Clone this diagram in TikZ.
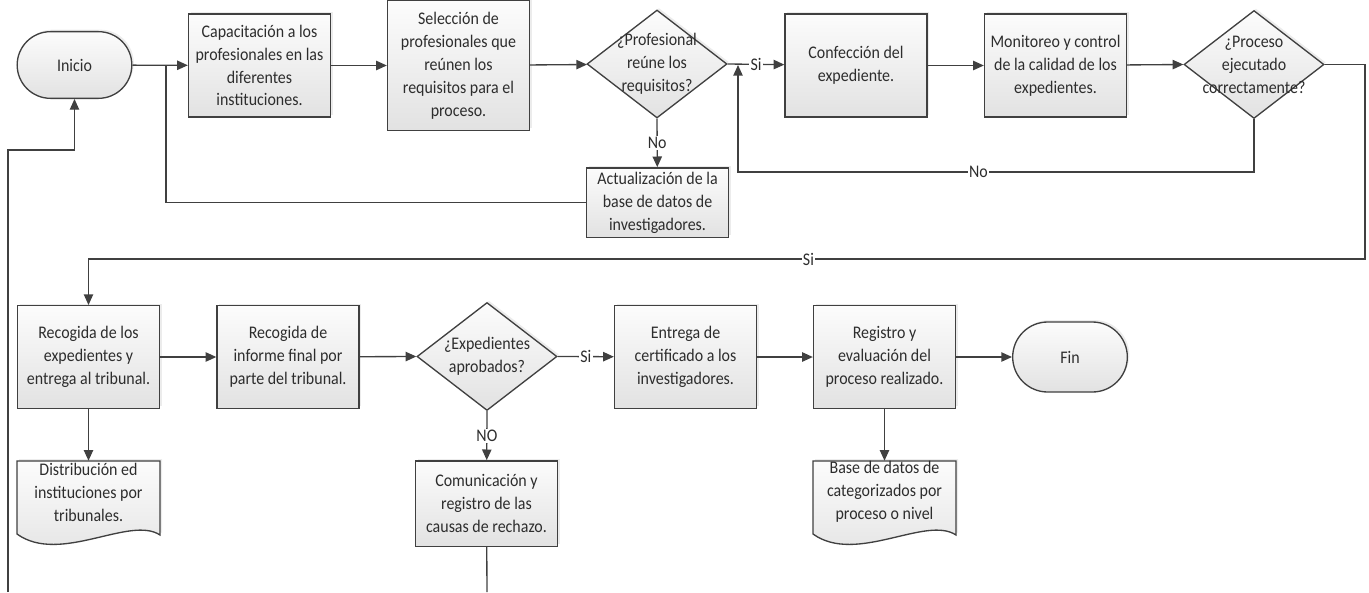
\documentclass[tikz,border=0pt]{standalone}
\usepackage{fontspec}
\setmainfont{Carlito}[FakeStretch=0.9]
\usetikzlibrary{arrows.meta,shapes.geometric,shapes.misc,shadows}
\definecolor{lineGray}{RGB}{64,64,64}
\definecolor{textGray}{RGB}{45,45,45}
\definecolor{fillTop}{RGB}{252,252,252}
\definecolor{fillBot}{RGB}{226,226,226}

\begin{document}
\begin{tikzpicture}[x=0.75pt,y=0.75pt,yscale=-1,xscale=1,
    font=\fontsize{13.3}{17.2}\selectfont,
    every node/.append style={text=textGray},
    shade/.style={top color=fillTop, bottom color=fillBot, drop shadow={opacity=0.15, shadow xshift=1.5pt, shadow yshift=1.5pt}},
    proc/.style={shade, draw=lineGray, line width=1pt, minimum width=106.5pt, minimum height=77pt, align=center, inner sep=0pt},
    term/.style={shade, rounded rectangle, draw=lineGray, line width=1pt, minimum width=86pt, minimum height=50pt, inner sep=0pt},
    decision/.style={shade, diamond, draw=lineGray, line width=1pt, minimum width=105pt, minimum height=81pt, inner sep=0pt},
    dtext/.style={align=center, inner sep=0pt},
    doctext/.style={align=center, minimum width=106.5pt, minimum height=46.5pt, inner sep=0pt},
    docline/.style={shade, draw=lineGray, line width=1pt},
    conn/.style={draw=lineGray, line width=1pt},
    arr/.style={conn, -{Triangle[length=8pt,width=7pt]}},
    lbl/.style={fill=white, inner sep=1pt}]
        %set diagram left start at 0, 1369 wide and 592 high
        \useasboundingbox (0,0) rectangle (1369,592);

        %Shape: Terminator
        \node [term] (inicio) at (74.5,65) {Inicio};
        %Shape: Process
        \node [proc] (cap) at (259.5,65.5) {Capacitación a los\\profesionales en las\\diferentes\\instituciones.};
        %Shape: Process
        \node [proc, minimum height=97pt] (sel) at (458.5,65.5) {Selección de\\profesionales que\\reúnen los\\requisitos para el\\proceso.};
        %Shape: Decision
        \node [decision] (d1) at (657,64) {};
        \node [dtext] at (d1) {¿Profesional\\reúne los\\requisitos?};
        %Shape: Process
        \node [proc, minimum height=52pt] (act) at (657.5,202.5) {Actualización de la\\base de datos de\\investigadores.};
        %Shape: Process
        \node [proc] (conf) at (856,65.5) {Confección del\\expediente.};
        %Shape: Process
        \node [proc] (mon) at (1055.5,65.5) {Monitoreo y control\\de la calidad de los\\expedientes.};
        %Shape: Decision
        \node [decision] (d2) at (1254,64.5) {};
        \node [dtext] at (d2) {¿Proceso\\ejecutado\\correctamente?};

        %Shape: Process
        \node [proc] (rec1) at (88.5,357) {Recogida de los\\expedientes y\\entrega al tribunal.};
        %Shape: Process
        \node [proc] (rec2) at (288,357) {Recogida de\\informe final por\\parte del tribunal.};
        %Shape: Decision
        \node [decision] (d3) at (487,356.5) {};
        \node [dtext] at (d3) {¿Expedientes\\aprobados?};
        %Shape: Process
        \node [proc] (ent) at (685.5,357) {Entrega de\\certificado a los\\investigadores.};
        %Shape: Process
        \node [proc] (reg) at (884.5,357) {Registro y\\evaluación del\\proceso realizado.};
        %Shape: Terminator
        \node [term, minimum height=52.5pt] (fin) at (1070,357) {Fin};
        %Shape: Process
        \node [proc, minimum height=64pt] (com) at (486.5,503.5) {Comunicación y\\registro de las\\causas de rechazo.};

        %Shape: Document
        \draw [docline] (17,461) -- (160,461) -- (160,535) .. controls (130,515) and (60,565) .. (17,534) -- cycle;
        \node [doctext] (dist) at (88.5,492) {Distribución ed\\instituciones por\\tribunales.};
        %Shape: Document
        \draw [docline] (813,461) -- (956,461) -- (956,535) .. controls (926,515) and (856,565) .. (813,534) -- cycle;
        \node [doctext] (base) at (884.5,492) {Base de datos de\\categorizados por\\proceso o nivel};

        %Points on connectors
        \coordinate (jcap) at (166,65);
        \coordinate (jsi) at (738,65);
        \coordinate (jno) at (738,172);
        \coordinate (sir) at (1365,259);
        \coordinate (comend) at (487,592);
        \coordinate (loopstart) at (8,592);
        \coordinate (loopcorner) at (8,150);

        %Straight Lines
        \draw [arr] (inicio) -- (cap);
        \draw [arr] (cap) -- (sel);
        \draw [arr] (sel) -- (d1);
        \draw [arr] (d1.east) -- node [lbl] {Si} (conf);
        \draw [arr] (d1.south) -- node [lbl] {No} (act);
        \draw [conn] (act.west) -| (jcap);
        \draw [arr] (conf) -- (mon);
        \draw [arr] (mon) -- (d2.west);
        \draw [arr] (d2.south) |- node [lbl, pos=0.767] {No} (jno) -- (jsi);
        \draw [arr] (d2.east) -| (sir) -| node [lbl, pos=0.218] {Si} (rec1.north);
        \draw [arr] (rec1) -- (rec2);
        \draw [arr] (rec2) -- (d3.west);
        \draw [arr] (d3.east) -- node [lbl] {Si} (ent);
        \draw [arr] (d3.south) -- node [lbl] {NO} (com);
        \draw [arr] (ent) -- (reg);
        \draw [arr] (reg) -- (fin);
        \draw [arr] (rec1) -- (dist);
        \draw [arr] (reg) -- (base);
        \draw [conn] (com) -- (comend);
        \draw [arr] (loopstart) -- (loopcorner) -| (inicio.south);

    \end{tikzpicture}
\end{document}
